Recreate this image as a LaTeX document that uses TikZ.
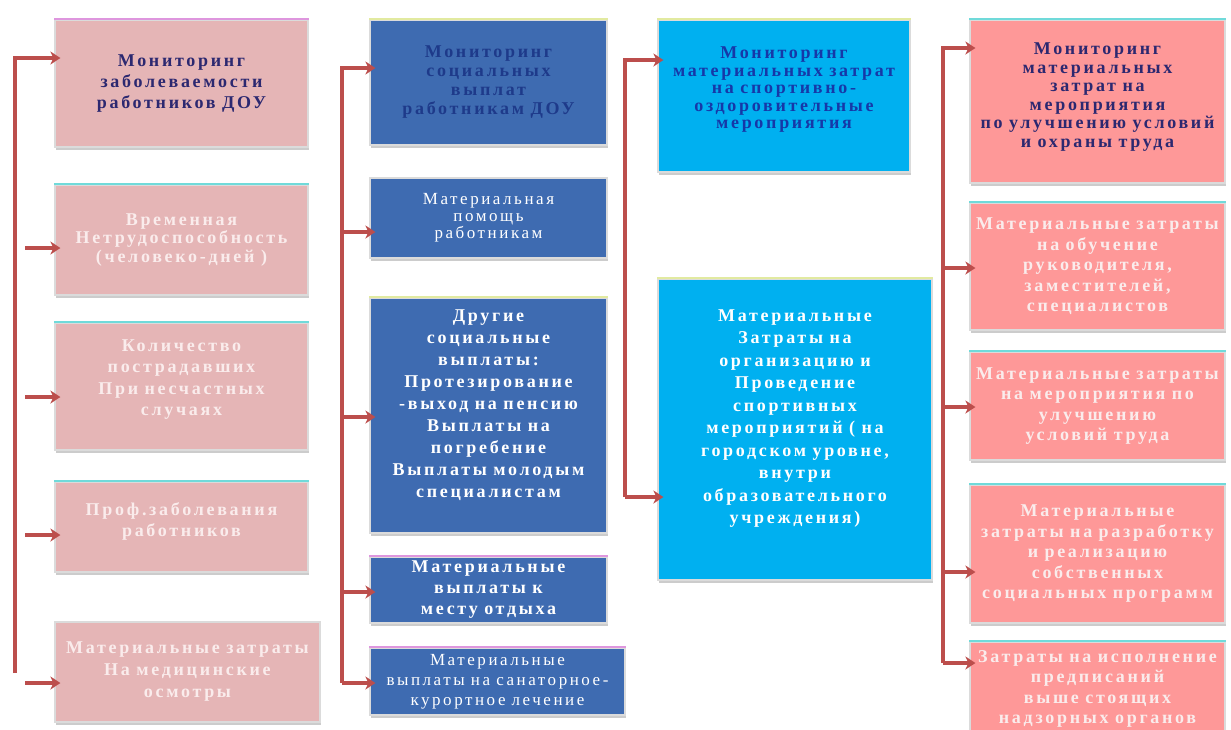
\documentclass[tikz,border=0pt]{standalone}
\usepackage{fontspec}
\setmainfont{Liberation Serif}[LetterSpace=15, WordSpace=0.9]
\usetikzlibrary{arrows.meta,shadows}
\definecolor{pinkA}{RGB}{229,181,182}
\definecolor{blueB}{RGB}{62,107,177}
\definecolor{cyanC}{RGB}{0,176,240}
\definecolor{salmonD}{RGB}{254,152,152}
\definecolor{navyT}{RGB}{44,40,112}
\definecolor{blueT}{RGB}{30,58,138}
\definecolor{cyanT}{RGB}{22,56,168}
\definecolor{pinkT}{RGB}{250,236,236}
\definecolor{arrowC}{RGB}{188,78,76}
\definecolor{tealL}{RGB}{112,218,218}
\definecolor{magL}{RGB}{222,150,222}
\definecolor{yelL}{RGB}{226,234,160}
\tikzset{
  box/.style={rectangle, draw=white!86!black, line width=1.2pt, align=center, inner sep=1pt,
    drop shadow={shadow xshift=1pt, shadow yshift=-2.5pt, fill=black!50, opacity=0.4},
    font=\fontsize{18}{20.5}\selectfont\bfseries},
  pinkbox/.style={box, fill=pinkA, text=pinkT},
  bluebox/.style={box, fill=blueB, text=white},
  cyanbox/.style={box, fill=cyanC, text=white},
  salmonbox/.style={box, fill=salmonD, text=pinkT},
  thin/.style={font=\fontsize{17}{17}\selectfont},
  arr/.style={draw=arrowC, line width=3.8pt, shorten >=-6pt,
    -{Stealth[length=10pt, width=13pt, inset=3pt]}},
  accent/.style={draw=#1, line width=2pt}
}
\begin{document}
\begin{tikzpicture}[x=1pt, y=-1pt]
\useasboundingbox (0,0) rectangle (1231,729);
\clip (0,0) rectangle (1231,729);
\fill[white] (0,0) rectangle (1231,729);

% column 1
\node[pinkbox, text=navyT, font=\fontsize{18}{21}\selectfont\bfseries, minimum width=253pt, minimum height=127pt] (a1) at (181.5,83.5)
  {Мониторинг\\заболеваемости\\работников ДОУ};
\node[pinkbox, font=\fontsize{18}{18.5}\selectfont\bfseries, minimum width=253pt, minimum height=110pt] (a2) at (181.5,240)
  {Временная\\Нетрудоспособность\\(человеко-дней )};
\node[pinkbox, font=\fontsize{18}{21.5}\selectfont\bfseries, minimum width=253pt, minimum height=127pt] (a3) at (181.5,386.5)
  {Количество\\пострадавших\\При несчастных\\случаях\\[-4pt]};
\node[pinkbox, minimum width=253pt, minimum height=90pt] (a4) at (181.5,527)
  {Проф.заболевания\\работников\\[-6pt]};
\node[pinkbox, font=\fontsize{18}{22}\selectfont\bfseries, minimum width=265pt, minimum height=100pt] (a5) at (187.5,672)
  {Материальные затраты\\На медицинские\\осмотры};

% column 2
\node[bluebox, text=blueT, font=\fontsize{18}{19}\selectfont\bfseries, minimum width=237pt, minimum height=125pt] (b1) at (488.5,82.5)
  {Мониторинг\\социальных\\выплат\\работникам ДОУ};
\node[bluebox, thin, minimum width=237pt, minimum height=80pt] (b2) at (488.5,218)
  {Материальная\\помощь\\работникам};
\node[bluebox, font=\fontsize{18}{22}\selectfont\bfseries, minimum width=237pt, minimum height=235pt] (b3) at (488.5,415.5)
  {Другие\\социальные\\выплаты:\\Протезирование\\-выход на пенсию\\Выплаты на\\погребение\\Выплаты молодым\\специалистам\\[1pt]};
\node[bluebox, font=\fontsize{18}{21}\selectfont\bfseries, minimum width=237pt, minimum height=66pt, inner sep=0pt] (b4) at (488.5,590)
  {Материальные\\выплаты к\\месту отдыха};
\node[bluebox, thin, font=\fontsize{17}{20}\selectfont, minimum width=255pt, minimum height=67pt, inner sep=0pt] (b5) at (497.5,681.5)
  {Материальные\\выплаты на санаторное-\\курортное лечение};

% column 3
\node[cyanbox, text=cyanT, font=\fontsize{18}{17.5}\selectfont\bfseries, minimum width=252pt, minimum height=152pt] (c1) at (784,96)
  {Мониторинг\\материальных затрат\\на спортивно-\\оздоровительные\\мероприятия\\[-1.5pt]};
\node[cyanbox, font=\fontsize{18}{22.5}\selectfont\bfseries, minimum width=274pt, minimum height=301pt] (c2) at (795,429.5)
  {Материальные\\Затраты на\\организацию и\\Проведение\\спортивных\\мероприятий ( на\\городском уровне,\\внутри\\образовательного\\учреждения)\\[3.5pt]};

% column 4
\node[salmonbox, text=navyT, font=\fontsize{18}{18.5}\selectfont\bfseries, minimum width=255pt, minimum height=163pt] (d1) at (1097.5,101.5)
  {Мониторинг\\материальных\\затрат на\\мероприятия\\по улучшению условий\\и охраны труда\\[-5.5pt]};
\node[salmonbox, minimum width=255pt, minimum height=127pt] (d2) at (1097.5,266.5)
  {Материальные затраты\\на обучение\\руководителя,\\заместителей,\\специалистов};
\node[salmonbox, minimum width=255pt, minimum height=108pt] (d3) at (1097.5,406)
  {Материальные затраты\\на мероприятия по\\улучшению\\условий труда};
\node[salmonbox, minimum width=255pt, minimum height=138pt] (d4) at (1097.5,554)
  {Материальные\\затраты на разработку\\и реализацию\\собственных\\социальных программ};
\node[salmonbox, minimum width=255pt, minimum height=103pt] (d5) at (1097.5,693.5)
  {Затраты на исполнение\\предписаний\\выше стоящих\\надзорных органов\\[-8pt]};

% accent lines on box tops
\draw[accent=magL] (a1.north west) -- (a1.north east);
\foreach \n in {a2,a3,a4,d2,d3,d4,d5,d1} {\draw[accent=tealL] (\n.north west) -- (\n.north east);}
\foreach \n in {b1,b3,c1,c2} {\draw[accent=yelL] (\n.north west) -- (\n.north east);}
\foreach \n in {b4,b5} {\draw[accent=magL] (\n.north west) -- (\n.north east);}

% connectors column 1
\coordinate (ta0) at (15,673);
\coordinate (ta1) at (15,58);
\coordinate (sa2) at (25,248);
\coordinate (sa3) at (25,397);
\coordinate (sa4) at (25,535);
\coordinate (sa5) at (25,683);
\draw[arr] (ta0) -- (ta1) -- (ta1 -| a1.west);
\draw[arr] (sa2) -- (sa2 -| a2.west);
\draw[arr] (sa3) -- (sa3 -| a3.west);
\draw[arr] (sa4) -- (sa4 -| a4.west);
\draw[arr] (sa5) -- (sa5 -| a5.west);

% connectors column 2
\coordinate (tb0) at (342,683);
\coordinate (tb1) at (342,68);
\coordinate (sb2) at (342,232);
\coordinate (sb3) at (342,417);
\coordinate (sb4) at (342,592);
\draw[arr] (tb0) -- (tb1) -- (tb1 -| b1.west);
\draw[arr] (sb2) -- (sb2 -| b2.west);
\draw[arr] (sb3) -- (sb3 -| b3.west);
\draw[arr] (sb4) -- (sb4 -| b4.west);
\draw[arr] (tb0) -- (tb0 -| b5.west);

% connectors column 3
\coordinate (tc0) at (625,497);
\coordinate (tc1) at (625,60);
\draw[arr] (tc0) -- (tc1) -- (tc1 -| c1.west);
\draw[arr] (tc0) -- (tc0 -| c2.west);

% connectors column 4
\coordinate (td0) at (943,663);
\coordinate (td1) at (943,48);
\coordinate (sd2) at (943,268);
\coordinate (sd3) at (943,407);
\coordinate (sd4) at (943,572);
\draw[arr] (td0) -- (td1) -- (td1 -| d1.west);
\draw[arr] (sd2) -- (sd2 -| d2.west);
\draw[arr] (sd3) -- (sd3 -| d3.west);
\draw[arr] (sd4) -- (sd4 -| d4.west);
\draw[arr] (td0) -- (td0 -| d5.west);
\end{tikzpicture}
\end{document}
